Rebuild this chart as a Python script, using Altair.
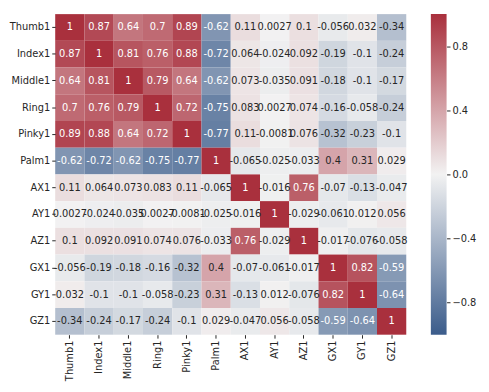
import altair as alt
import pandas as pd

labels = ["Thumb1", "Index1", "Middle1", "Ring1", "Pinky1", "Palm1",
          "AX1", "AY1", "AZ1", "GX1", "GY1", "GZ1"]

matrix = [
    [1, 0.87, 0.64, 0.7, 0.89, -0.62, 0.11, 0.0027, 0.1, -0.056, 0.032, -0.34],
    [0.87, 1, 0.81, 0.76, 0.88, -0.72, 0.064, -0.024, 0.092, -0.19, -0.1, -0.24],
    [0.64, 0.81, 1, 0.79, 0.64, -0.62, 0.073, -0.035, 0.091, -0.18, -0.1, -0.17],
    [0.7, 0.76, 0.79, 1, 0.72, -0.75, 0.083, 0.0027, 0.074, -0.16, -0.058, -0.24],
    [0.89, 0.88, 0.64, 0.72, 1, -0.77, 0.11, -0.0081, 0.076, -0.32, -0.23, -0.1],
    [-0.62, -0.72, -0.62, -0.75, -0.77, 1, -0.065, -0.025, -0.033, 0.4, 0.31, 0.029],
    [0.11, 0.064, 0.073, 0.083, 0.11, -0.065, 1, -0.016, 0.76, -0.07, -0.13, -0.047],
    [0.0027, -0.024, -0.035, 0.0027, -0.0081, -0.025, -0.016, 1, -0.029, -0.061, 0.012, 0.056],
    [0.1, 0.092, 0.091, 0.074, 0.076, -0.033, 0.76, -0.029, 1, -0.017, -0.076, -0.058],
    [-0.056, -0.19, -0.18, -0.16, -0.32, 0.4, -0.07, -0.061, -0.017, 1, 0.82, -0.59],
    [0.032, -0.1, -0.1, -0.058, -0.23, 0.31, -0.13, 0.012, -0.076, 0.82, 1, -0.64],
    [-0.34, -0.24, -0.17, -0.24, -0.1, 0.029, -0.047, 0.056, -0.058, -0.59, -0.64, 1],
]

colorbar_ticks = [-0.8, -0.4, 0.0, 0.4, 0.8]

BLUE = "#3b5c8b"
MID = "#f2f2f2"
RED = "#a9303d"
FONT = "DejaVu Sans"
DARK = "#262626"

rows = []
for i, r in enumerate(labels):
    for j, c in enumerate(labels):
        v = matrix[i][j]
        rows.append({"row": r, "col": c, "value": v, "label": f"{v:.2g}",
                     "light": abs(v) > 0.5})
df = pd.DataFrame(rows)

W, H = 357, 326

base = alt.Chart(df).encode(
    x=alt.X("col:N", sort=labels, title=None,
            scale=alt.Scale(paddingInner=0, paddingOuter=0),
            axis=alt.Axis(labelAngle=270, domain=False, ticks=True, tickSize=3.5,
                          labelPadding=2)),
    y=alt.Y("row:N", sort=labels, title=None,
            scale=alt.Scale(paddingInner=0, paddingOuter=0),
            axis=alt.Axis(domain=False, ticks=True, tickSize=3.5, labelPadding=2)),
)

rects = base.mark_rect().encode(
    color=alt.Color("value:Q",
                    scale=alt.Scale(domain=[-1, 0, 1], range=[BLUE, MID, RED],
                                    interpolate="rgb"),
                    legend=None)
)

texts = base.mark_text(font=FONT, fontSize=10).encode(
    text="label:N",
    color=alt.condition("datum.light", alt.value("white"), alt.value(DARK)),
)

heat = (rects + texts).properties(width=W, height=H)

cb_df = pd.DataFrame({"lo": [-1.0], "hi": [1.0]})
colorbar = alt.Chart(cb_df).mark_rect(
    color=alt.Gradient(
        gradient="linear",
        stops=[alt.GradientStop(color=BLUE, offset=0),
               alt.GradientStop(color=MID, offset=0.5),
               alt.GradientStop(color=RED, offset=1)],
        x1=0, x2=0, y1=1, y2=0,
    )
).encode(
    y=alt.Y("lo:Q", scale=alt.Scale(domain=[-1, 1], nice=False, zero=False), title=None,
            axis=alt.Axis(orient="right", values=colorbar_ticks, domain=False,
                          grid=False, tickSize=3.5, labelPadding=2,
                          labelExpr="replace(format(datum.value, '.1f'), '-', '\u2212')")),
    y2="hi:Q",
).properties(width=16, height=H)

chart = alt.hconcat(heat, colorbar, spacing=23).properties(
    padding={"left": 1, "top": 3, "right": 5, "bottom": 5}
).configure_view(stroke=None).configure_axis(
    labelFont=FONT, labelFontSize=10, labelColor=DARK, tickColor=DARK, grid=False
)

chart.save("out.html", embed_options={"renderer": "svg", "actions": False})
